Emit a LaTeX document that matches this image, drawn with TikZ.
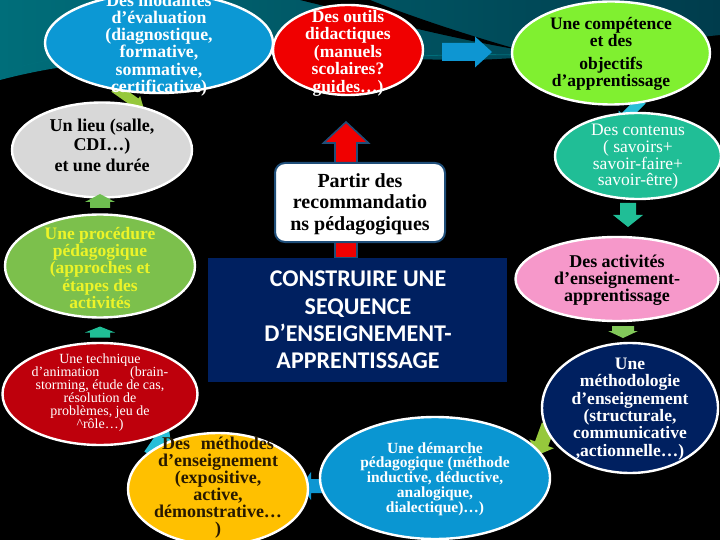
\documentclass[tikz,border=0pt]{standalone}
\usepackage{fontspec}
\setmainfont{Liberation Serif}
\newfontfamily\calibfont{Carlito}
\usetikzlibrary{shapes.geometric}
\definecolor{bgteal}{RGB}{0,60,76}
\definecolor{bgtealL}{RGB}{0,110,122}
\definecolor{evalblue}{RGB}{12,152,212}
\definecolor{outred}{RGB}{240,0,0}
\definecolor{compgreen}{RGB}{128,240,48}
\definecolor{lieugray}{RGB}{216,216,216}
\definecolor{procgreen}{RGB}{124,192,76}
\definecolor{procyellow}{RGB}{236,244,40}
\definecolor{techred}{RGB}{190,0,12}
\definecolor{methyellow}{RGB}{255,192,0}
\definecolor{methtext}{RGB}{40,25,0}
\definecolor{demblue}{RGB}{10,150,210}
\definecolor{navy}{RGB}{0,32,96}
\definecolor{contteal}{RGB}{32,190,150}
\definecolor{actpink}{RGB}{246,152,202}
\definecolor{boxedge}{RGB}{31,78,121}
\definecolor{arrowblue}{RGB}{14,150,210}
\definecolor{arrowlime}{RGB}{150,200,60}
\definecolor{arrowgreen}{RGB}{110,190,80}
\definecolor{arrowlgreen}{RGB}{130,200,90}
\definecolor{arrowteal}{RGB}{32,190,150}
\definecolor{arrowcyan}{RGB}{40,190,215}
\tikzset{
  ell/.style={ellipse, draw=white, line width=2.4pt, inner sep=0pt},
  txt/.style={align=center, inner sep=0pt},
  pics/blockarrow/.style n args={5}{code={
    \path[#5] (-#1/2,-#4/2) -- (#1/2-#2,-#4/2) -- (#1/2-#2,-#3/2) -- (#1/2,0)
      -- (#1/2-#2,#3/2) -- (#1/2-#2,#4/2) -- (-#1/2,#4/2) -- cycle;
  }}
}
\begin{document}
\begin{tikzpicture}[x=1pt,y=-1pt]
\useasboundingbox (0,0) rectangle (720,540);
% background
\fill[black] (0,0) rectangle (720,540);
\shade[left color=bgtealL, right color=bgteal] (0,0) -- (720,0) -- (720,35)
  .. controls (650,42) and (560,58) .. (470,60)
  .. controls (350,60) and (150,40) .. (0,80) -- cycle;
\fill[black] (300,0) .. controls (390,22) and (440,36) .. (520,50)
  .. controls (450,30) and (400,12) .. (370,0) -- cycle;
\draw[bgtealL, line width=0.8pt] (390,57) .. controls (440,55) and (480,54) .. (515,55);
\draw[bgtealL, line width=0.8pt] (0,72) .. controls (15,68) and (30,64) .. (48,60);

% small connector arrows (partly hidden behind the ellipses)
\pic[rotate=-35] at (129,98) {blockarrow={36}{10}{16}{10}{fill=arrowlime}};
\pic[rotate=-135] at (630,112) {blockarrow={34}{10}{18}{10}{fill=arrowcyan}};
\pic[rotate=55] at (159,441) {blockarrow={34}{12}{22}{12}{fill=arrowcyan}};
\pic[rotate=180] at (316,486) {blockarrow={30}{10}{28}{14}{fill=arrowblue}};
\pic[rotate=-110] at (543,440) {blockarrow={32}{12}{26}{14}{fill=arrowlime}};

% ellipses
\node[ell, fill=evalblue, minimum width=228pt, minimum height=100pt] (eval) at (159,43) {};
\node[ell, fill=outred, minimum width=150pt, minimum height=90pt] (outils) at (348,50) {};
\node[ell, fill=compgreen, minimum width=198pt, minimum height=103pt] (comp) at (611,53) {};
\node[ell, fill=lieugray, minimum width=180pt, minimum height=95pt] (lieu) at (102,150) {};
\node[ell, fill=procgreen, minimum width=190pt, minimum height=103pt] (proc) at (100,266) {};
\node[ell, fill=techred, minimum width=195pt, minimum height=102pt] (tech) at (100,394) {};
\node[ell, fill=methyellow, minimum width=180pt, minimum height=112pt] (meth) at (218,489) {};
\node[ell, fill=demblue, minimum width=230pt, minimum height=122pt] (dem) at (435,478) {};
\node[ell, fill=contteal, minimum width=166pt, minimum height=86pt] (cont) at (638,156) {};
\node[ell, fill=actpink, minimum width=203pt, minimum height=84pt] (act) at (617,279) {};
\node[ell, fill=navy, minimum width=176pt, minimum height=130pt] (metho) at (630,408) {};

% block arrows
\pic at (467,52) {blockarrow={50}{17}{31}{18}{fill=arrowblue}};
\pic[rotate=90] at (100,201) {blockarrow={14}{8}{30}{20}{fill=arrowgreen}};
\pic[rotate=90] at (100,332) {blockarrow={11}{6}{30}{20}{fill=arrowteal}};
\pic[rotate=-90] at (628,215) {blockarrow={24}{12}{30}{16}{fill=arrowteal}};
\pic[rotate=-90] at (623,332) {blockarrow={12}{7}{30}{22}{fill=arrowlgreen}};
\pic[rotate=90] at (346,190) {blockarrow={136}{21}{45}{22}{fill=outred, draw=boxedge, line width=1.6pt}};

% central boxes
\node[fill=navy, minimum width=299pt, minimum height=124pt, inner sep=0pt] (seq) at (357.5,320) {};
\node[fill=white, draw=boxedge, line width=2pt, rounded corners=10pt, minimum width=170pt, minimum height=79pt, inner sep=0pt] (partir) at (360,202.5) {};

% texts
\node[txt, text=white, font=\bfseries\fontsize{17.8}{17.3}\selectfont] (evalT) at (159,45)
  {Des modalités\\d’évaluation\\(diagnostique,\\formative,\\sommative,\\certificative)};
\node[txt, text=white, font=\bfseries\fontsize{17.5}{17.5}\selectfont] (outilsT) at (348,53)
  {Des outils\\didactiques\\(manuels\\scolaires?\\guides…)};
\node[txt, text=black, font=\bfseries\fontsize{17.5}{17}\selectfont] (compT) at (611,53.5)
  {Une compétence\\et des\\[6pt]objectifs\\d’apprentissage};
\node[txt, text=black, font=\bfseries\fontsize{18}{19}\selectfont] (lieuT) at (102,145)
  {Un lieu (salle,\\CDI…)\\[2pt]et une durée};
\node[txt, text=procyellow, font=\bfseries\fontsize{17.5}{17.25}\selectfont] (procT) at (100,268)
  {Une procédure\\pédagogique\\(approches et\\étapes des\\activités};
\node[txt, text=white, font=\fontsize{14}{13}\selectfont] (techT) at (100,393)
  {Une technique\\d'animation\hspace{2.2em}(brain-\\storming, étude de cas,\\résolution de\\problèmes, jeu de\\\textasciicircum rôle…)};
\node[txt, text=methtext, font=\bfseries\fontsize{18}{17}\selectfont] (methT) at (218,488)
  {Des\hspace{0.6em}méthodes\\d’enseignement\\(expositive,\\active,\\démonstrative…\\)};
\node[txt, text=white, font=\bfseries\fontsize{15.5}{14.8}\selectfont] (demT) at (435,479)
  {Une démarche\\pédagogique (méthode\\inductive, déductive,\\analogique,\\dialectique)…)};
\node[txt, text=white, font=\fontsize{17.5}{16.7}\selectfont] (contT) at (638,157)
  {Des contenus\\( savoirs+\\savoir-faire+\\savoir-être)};
\node[txt, text=black, font=\bfseries\fontsize{18}{17}\selectfont] (actT) at (617,280)
  {Des activités\\d’enseignement-\\apprentissage};
\node[txt, text=white, font=\bfseries\fontsize{17.5}{17.4}\selectfont] (methoT) at (630,409)
  {Une\\méthodologie\\d’enseignement\\(structurale,\\communicative\\,actionnelle…)};
\node[txt, text=black, font=\bfseries\fontsize{20}{21.5}\selectfont] (partirT) at (360,204)
  {Partir des\\recommandatio\\ns pédagogiques};
\node[txt, text=white, font=\calibfont\bfseries\fontsize{24}{27.3}\selectfont] (seqT) at (358,320)
  {CONSTRUIRE UNE\\SEQUENCE\\D’ENSEIGNEMENT-\\APPRENTISSAGE};
\end{tikzpicture}
\end{document}
